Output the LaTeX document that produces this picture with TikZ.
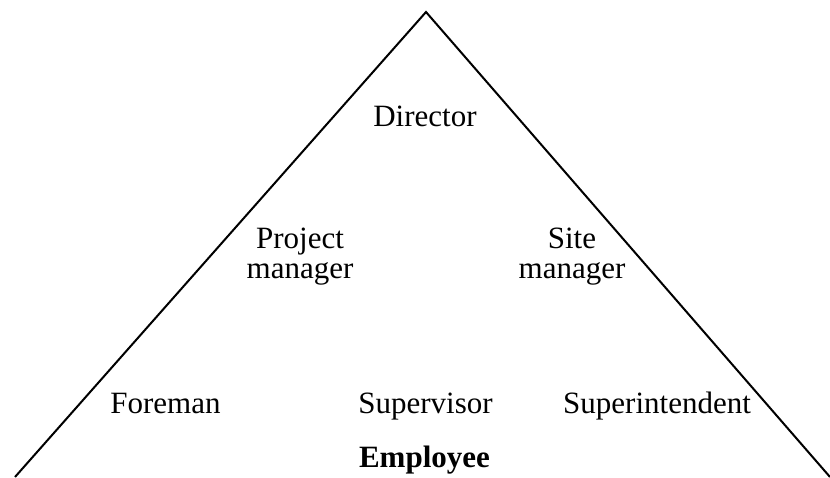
\documentclass[tikz,border=0pt]{standalone}
\usepackage{fontspec}
\setmainfont{Liberation Serif}
\begin{document}
\begin{tikzpicture}[x=1pt,y=-1pt,
  lbl/.style={align=center,inner sep=0pt,anchor=base,font=\fontsize{31}{30}\selectfont},
  edge/.style={line width=2pt,line join=miter}]
\useasboundingbox (0,0) rectangle (830,477);
\clip (0,0) rectangle (830,477);
\coordinate (apex) at (426,12);
\coordinate (bl) at (15,477);
\coordinate (br) at (830,477);
\draw[edge] (bl) -- (apex) -- (br);
\node[lbl] (director) at (425,126) {Director};
\node[lbl] (pm) at (300,278) {Project\\manager};
\node[lbl] (sm) at (572,278) {Site\\manager};
\node[lbl] (foreman) at (165.5,413) {Foreman};
\node[lbl] (supervisor) at (425.5,413) {Supervisor};
\node[lbl,anchor=base west] (super) at (563,413) {Superintendent};
\node[lbl,font=\fontsize{31}{30}\selectfont\bfseries] (employee) at (424.5,467) {Employee};
\end{tikzpicture}
\end{document}
